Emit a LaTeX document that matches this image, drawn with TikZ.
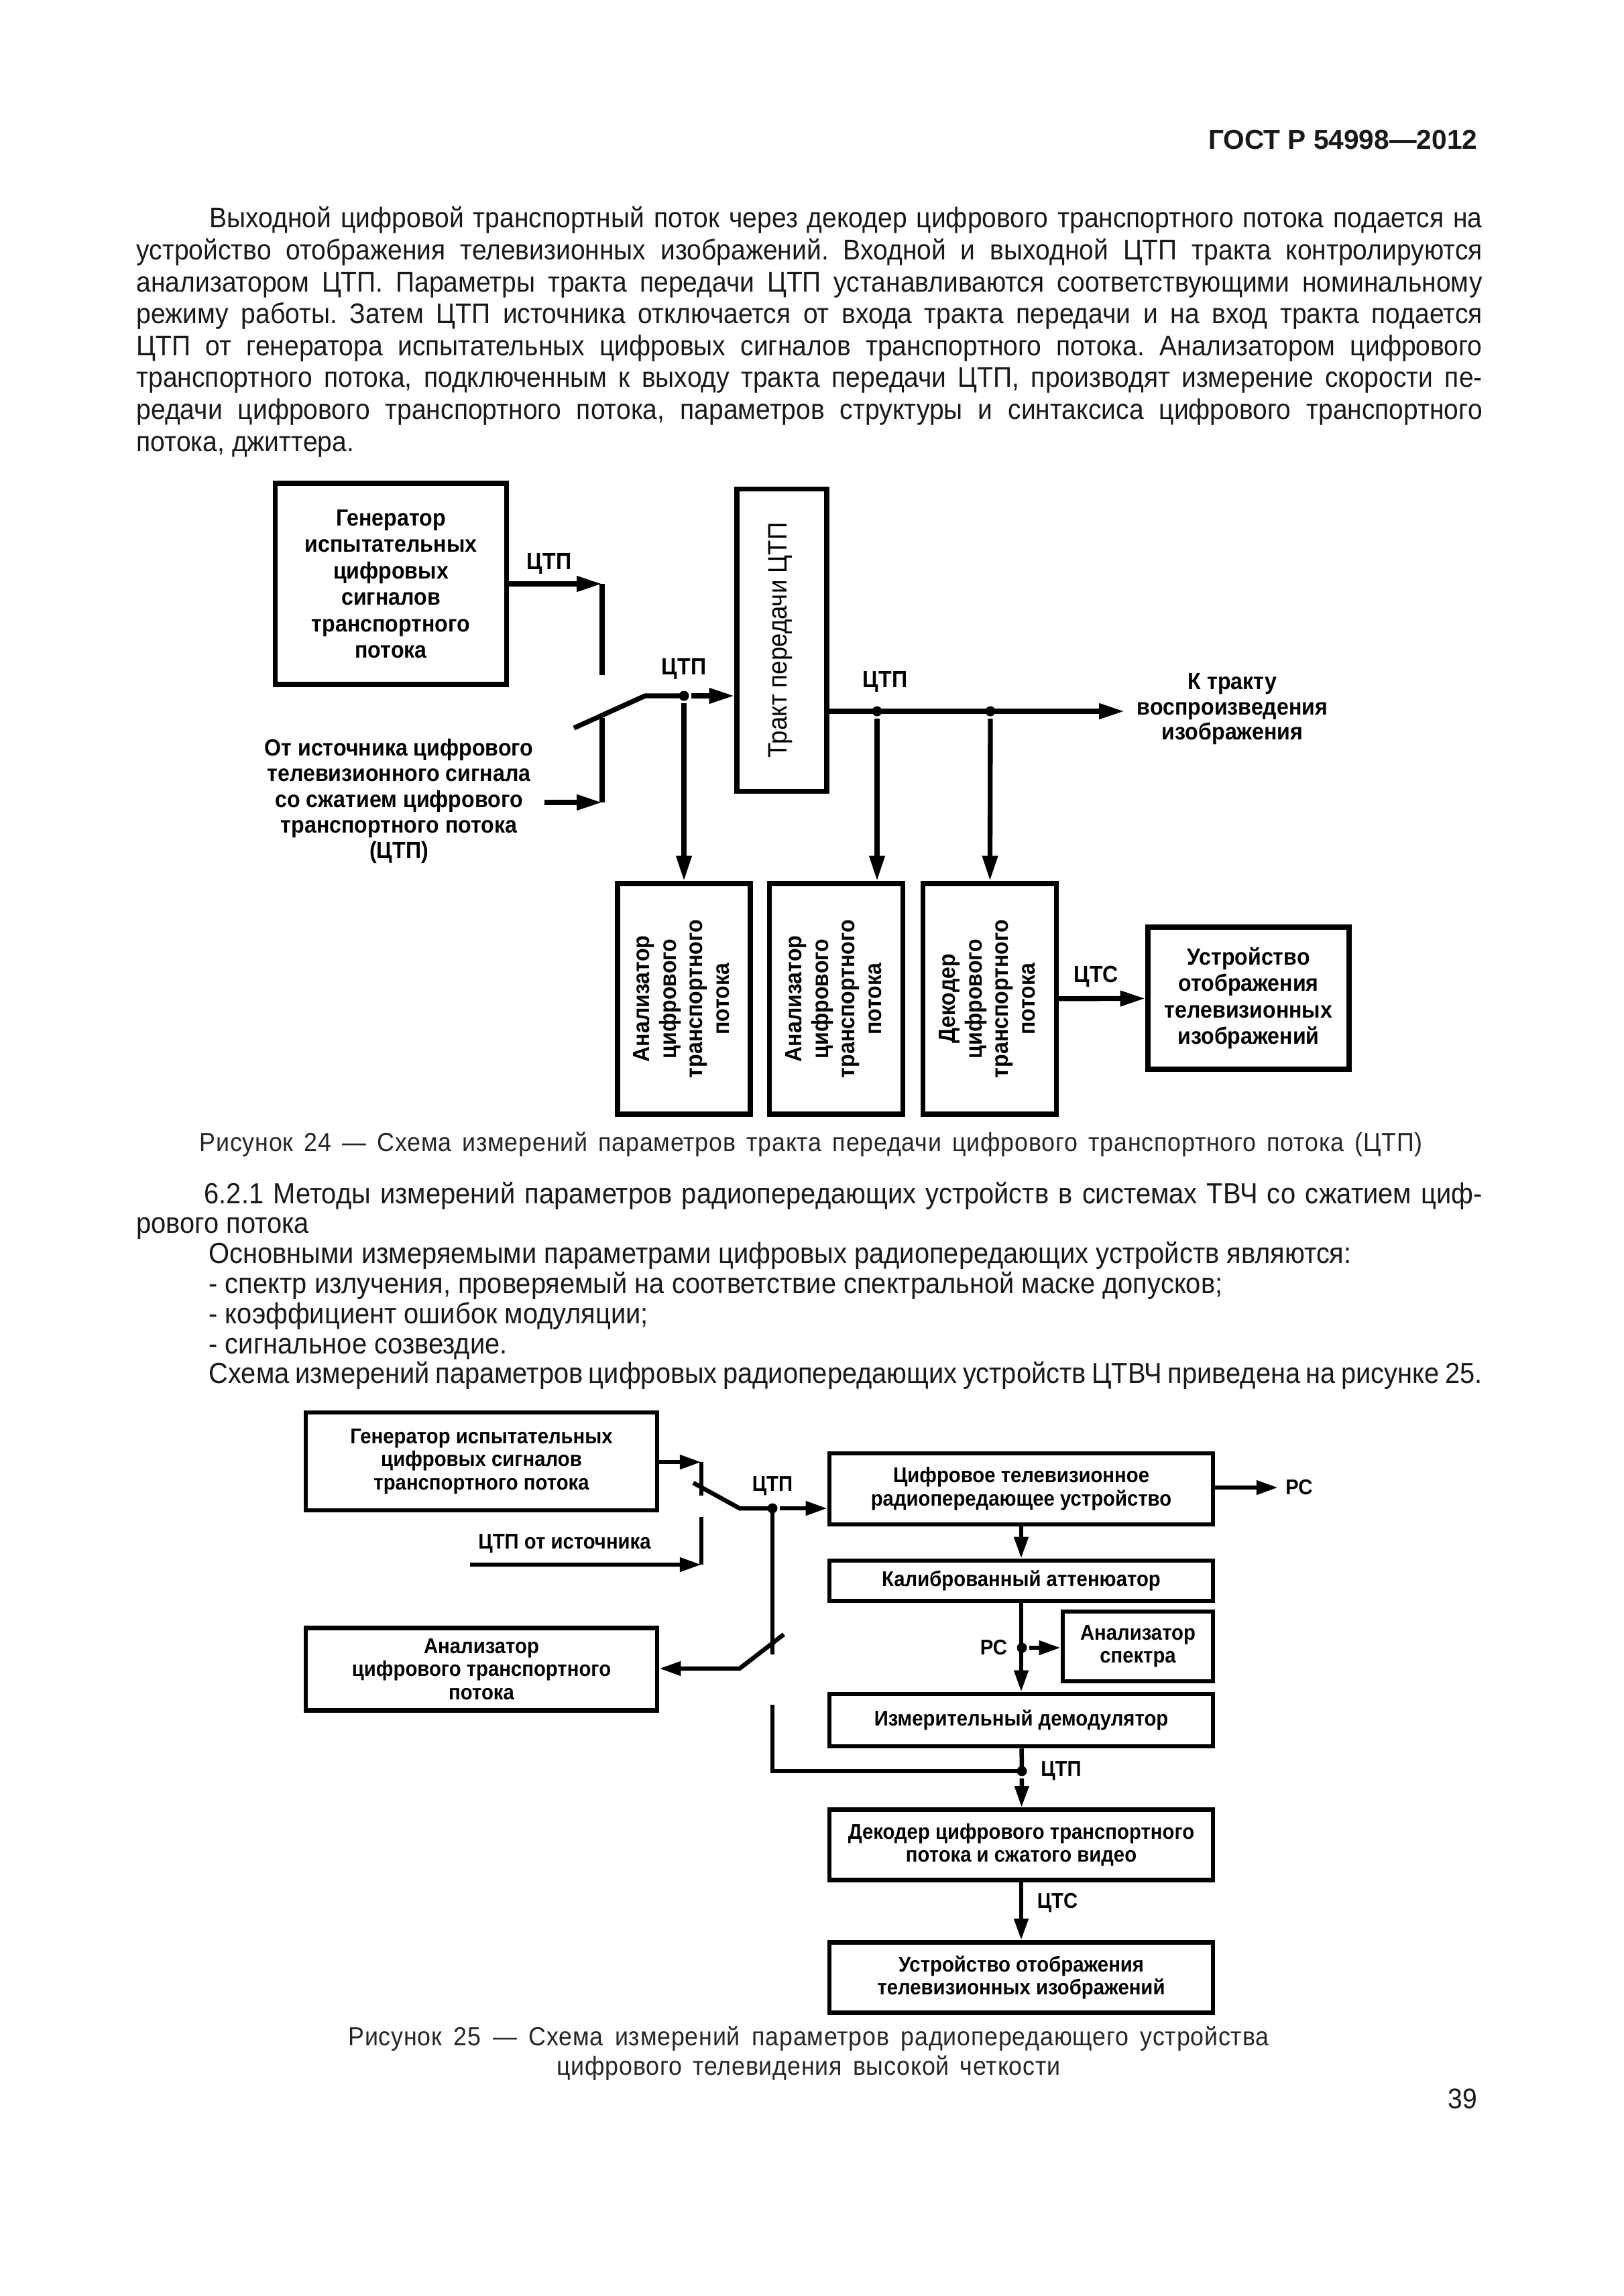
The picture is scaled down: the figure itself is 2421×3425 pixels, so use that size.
\documentclass[tikz,border=0pt]{standalone}
\usepackage{graphicx}
\usepackage{fontspec}
\setmainfont[FakeStretch=0.92]{Liberation Sans}
\newfontfamily\headfont{Liberation Sans}
\newfontfamily\capfont[FakeStretch=0.92, LetterSpace=2.0]{Liberation Sans}
\usetikzlibrary{calc}
\usetikzlibrary{positioning}
\usetikzlibrary{arrows.meta}

\newdimen\px
\px=0.24588pt
\newcommand{\bodyfont}{\fontsize{10.43}{11.7}\selectfont}
\newcommand{\listfont}{\fontsize{10.65}{11.02}\selectfont}
\newcommand{\capfnt}{\capfont\fontsize{9.57}{11}\selectfont}
\newcommand{\blockfont}{\fontsize{8.59}{9.7}\selectfont\bfseries}
\newcommand{\smallfont}{\fontsize{7.83}{8.5}\selectfont\bfseries}
\newcommand{\vtxt}[1]{\rotatebox{90}{\begin{tabular}{@{}c@{}}#1\end{tabular}}}
\tikzset{boxsize/.style 2 args={minimum width=#1\px, minimum height=#2\px}}
\frenchspacing

\begin{document}
\begin{tikzpicture}[x=\px, y=-\px, ->, >={Triangle[length=9.3pt, width=5.4pt]}, line width=1.8pt]
	\tikzstyle{block}=[draw=black, rectangle, fill=none, inner sep=0pt, align=center, font=\blockfont]
	\tikzstyle{block2}=[block, font=\smallfont]
	\tikzstyle{lbl}=[inner sep=0pt, align=center, font=\blockfont]
	\tikzstyle{lbl2}=[lbl, font=\smallfont]
	\tikzstyle{dot}=[circle, fill=black, minimum size=15\px, inner sep=0pt]
	\tikzstyle{para}=[anchor=base west, inner sep=0pt, text=black!90, align=justify, text width=2007\px]
	\tikzstyle{capt}=[inner sep=0pt, font=\capfnt, text=black!85]

	\useasboundingbox (0,0) rectangle (2421,3425);
	\fill[white] (0,0) rectangle (2421,3425);

	% text of the page
	\node[anchor=base east, inner sep=0pt, font=\headfont\fontsize{10}{12}\selectfont\bfseries, text=black!90] (head) at (2207,223) {ГОСТ Р 54998—2012};
	\node[para, font=\bodyfont] (p1) at (200,340) {\hspace*{109\px}Выходной цифровой транспортный поток через декодер цифрового транспортного потока подается на\linebreak
		устройство отображения телевизионных изображений. Входной и выходной ЦТП тракта контролируются\linebreak
		анализатором ЦТП.  Параметры тракта передачи ЦТП устанавливаются соответствующими номинальному\linebreak
		режиму работы. Затем ЦТП источника отключается от входа тракта передачи и на вход тракта подается\linebreak
		ЦТП от генератора испытательных  цифровых сигналов транспортного потока. Анализатором цифрового\linebreak
		транспортного потока, подключенным к выходу тракта передачи ЦТП, производят измерение скорости пе-\linebreak
		редачи цифрового транспортного потока,  параметров структуры и синтаксиса цифрового транспортного\linebreak
		потока, джиттера.};
	\node[capt, anchor=base west] (cap1) at (294,1717) {\makebox[1824\px][s]{Рисунок 24 — Схема измерений параметров тракта передачи цифрового транспортного потока (ЦТП)}};
	\node[para, font=\listfont] (p2) at (200,1795) {\hspace*{101\px}6.2.1 Методы измерений параметров радиопередающих устройств в системах ТВЧ со сжатием циф-\linebreak
		рового потока\\
		\hspace*{108\px}Основными измеряемыми параметрами цифровых радиопередающих устройств являются:\\
		\hspace*{108\px}- спектр излучения, проверяемый на соответствие спектральной маске допусков;\\
		\hspace*{108\px}- коэффициент ошибок модуляции;\\
		\hspace*{108\px}- сигнальное созвездие.\\
		\hspace*{108\px}Схема измерений параметров  цифровых радиопередающих устройств ЦТВЧ приведена на рисунке 25.};
	\node[capt, anchor=base] (cap2a) at (1206,3051) {\makebox[1373\px][s]{Рисунок 25 — Схема измерений параметров  радиопередающего устройства}};
	\node[capt, anchor=base] (cap2b) at (1206,3095) {\makebox[751\px][s]{цифрового телевидения высокой четкости}};
	\node[anchor=base east, inner sep=0pt, font=\bodyfont, text=black!90] (pnum) at (2207,3145) {39};

	% Figure 24
	\node[block, boxsize={345}{300}] (gen) at (583,871) {Генератор\\испытательных\\цифровых\\сигналов\\транспортного\\потока};
	\node[block, boxsize={134}{451}] (tract) at (1166,955) {\vtxt{\mdseries\fontsize{9.78}{11}\selectfont Тракт передачи ЦТП}};
	\node[block, boxsize={198}{344}] (an1) at (1020,1490) {\vtxt{Анализатор\\цифрового\\транспортного\\потока}};
	\node[block, boxsize={199}{344}] (an2) at (1247,1490) {\vtxt{Анализатор\\цифрового\\транспортного\\потока}};
	\node[block, boxsize={199}{344}] (dec) at (1476,1490) {\vtxt{Декодер\\цифрового\\транспортного\\потока}};
	\node[block, boxsize={300}{212}] (disp) at (1862,1489) {Устройство\\отображения\\телевизионных\\изображений};

	\coordinate (ka) at (898,871);
	\coordinate (kb) at (898,1007);
	\coordinate (kc) at (898,1071);
	\coordinate (kd) at (898,1197);
	\coordinate (src) at (812,1197);
	\coordinate (lv1) at (856,1086);
	\coordinate (lv2) at (962,1038);
	\coordinate (out) at (1677,1061);
	\node[dot] (j1) at (1020,1038) {};
	\node[dot] (j2) at (1308,1061) {};
	\node[dot] (j3) at (1477,1061) {};

	\path (gen) edge (ka);
	\draw[-] (ka) -- (kb);
	\draw[-] (kc) -- (kd);
	\path (src) edge (kd);
	\draw[-] (lv1) -- (lv2) -- (j1.center);
	\path (j1) edge (j1 -| tract.west);
	\path (j1) edge (an1);
	\path (tract.east |- out) edge (out);
	\path (j2) edge (j2 |- an2.north);
	\path (j3) edge (dec);
	\path (dec) edge (disp);

	\node[lbl] (l1) at (819,841) {ЦТП};
	\node[lbl] (l2) at (1020,998) {ЦТП};
	\node[lbl] (l3) at (1320,1017) {ЦТП};
	\node[lbl] (l4) at (1635,1457) {ЦТС};
	\node[lbl, font=\fontsize{8.59}{9.4}\selectfont\bfseries] (srctext) at (595,1195) {От источника цифрового\\телевизионного сигнала\\со сжатием цифрового\\транспортного потока\\(ЦТП)};
	\node[lbl, font=\fontsize{8.59}{9.2}\selectfont\bfseries] (outtext) at (1838,1058) {К тракту\\воспроизведения\\изображения};

	% Figure 25
	\begin{scope}[line width=1.6pt, >={Triangle[length=7.9pt, width=5pt]}]
	\node[block2, boxsize={524}{146}] (gen2) at (718,2180) {Генератор испытательных\\цифровых сигналов\\транспортного потока};
	\node[block2, boxsize={524}{123}] (ants) at (718,2490) {Анализатор\\цифрового транспортного\\потока};
	\node[block2, boxsize={572}{106}] (tx) at (1523,2221) {Цифровое телевизионное\\радиопередающее устройство};
	\node[block2, boxsize={572}{60}] (att) at (1523,2358) {Калиброванный аттенюатор};
	\node[block2, boxsize={224}{104}] (spec) at (1697,2456) {Анализатор\\спектра};
	\node[block2, boxsize={572}{78}] (dem) at (1523,2566) {Измерительный демодулятор};
	\node[block2, boxsize={572}{105}] (dec2) at (1523,2752) {Декодер цифрового транспортного\\потока и сжатого видео};
	\node[block2, boxsize={572}{105}] (disp2) at (1523,2950) {Устройство отображения\\телевизионных изображений};

	\coordinate (ka2) at (1046,2181);
	\coordinate (kb2) at (1046,2231);
	\coordinate (kc2) at (1046,2263);
	\coordinate (kd2) at (1046,2334);
	\coordinate (src2) at (701,2334);
	\coordinate (lv3) at (1034,2212);
	\coordinate (lv4) at (1103,2250);
	\coordinate (ke2) at (1152,2468);
	\coordinate (lv5) at (1169,2438);
	\coordinate (lv6) at (1103,2489);
	\coordinate (kf2) at (1152,2543);
	\coordinate (rs) at (1906,2219);
	\node[dot] (j4) at (1152,2250) {};
	\node[dot] (j5) at (1524,2458) {};
	\node[dot] (j6) at (1524,2642) {};

	\path (gen2.east |- ka2) edge (ka2);
	\draw[-] (ka2) -- (kb2);
	\draw[-] (kc2) -- (kd2);
	\path (src2) edge (kd2);
	\draw[-] (lv3) -- (lv4) -- (j4.center);
	\path (j4) edge (j4 -| tx.west);
	\draw[-] (j4.center) -- (ke2);
	\draw (lv5) -- (lv6) -- (lv6 -| ants.east);
	\draw[-] (kf2) |- (j6.center);
	\path (tx) edge (att);
	\path (att) edge (dem);
	\path (j5) edge (j5 -| spec.west);
	\draw[-] (dem) -- (j6.center);
	\path (j6) edge (dec2);
	\path (dec2) edge (disp2);
	\path (tx.east |- rs) edge (rs);

	\node[lbl2] (l5) at (842,2303) {ЦТП от источника};
	\node[lbl2] (l6) at (1152,2217) {ЦТП};
	\node[lbl2, right=2pt of rs] (l7) {РС};
	\node[lbl2, left=2pt of j5] (l8) {РС};
	\node[lbl2, right=3.5pt of j6] (l9) {ЦТП};
	\node[lbl2] (l10) at (1577,2839) {ЦТС};
	\end{scope}
\end{tikzpicture}
\end{document}
